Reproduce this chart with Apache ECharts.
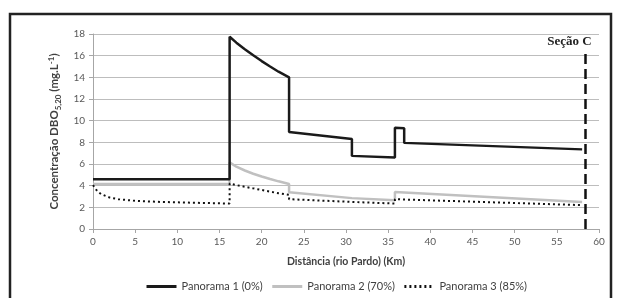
<!DOCTYPE html>
<html>
<head>
<meta charset="utf-8">
<script src="https://cdn.jsdelivr.net/npm/echarts@6/dist/echarts.min.js"></script>
<style>
  html, body { margin: 0; padding: 0; background: #fff; }
  #chart-div { width: 620px; height: 298px; }
</style>
</head>
<body>
<div id="chart-div"></div>
<script>
// distancias (km) e concentracoes DBO
const p1Km  = [0, 16.2, 16.2, 17, 18, 19, 20, 21, 22, 23.25, 23.25, 30.7, 30.7, 35.8, 35.8, 36.9, 36.9, 58]
const p1Val = [4.6, 4.6, 17.75, 17.2, 16.6, 16.03, 15.5, 15.0, 14.52, 14.0, 8.95, 8.3, 6.75, 6.6, 9.35, 9.3, 7.95, 7.35]

const p2Km  = [0, 16.2, 16.2, 17, 18, 19, 20, 21, 22, 23.25, 23.25, 30.7, 30.7, 35.8, 35.8, 36.9, 36.9, 58]
const p2Val = [4.15, 4.15, 6.15, 5.75, 5.4, 5.1, 4.85, 4.62, 4.4, 4.15, 3.4, 2.85, 2.72, 2.65, 3.42, 3.38, 3.2, 2.5]

const p3Km  = [0, 0.5, 1, 2, 3, 5, 8, 12, 16.2, 16.2, 17, 18, 19, 20, 21, 22, 23.25, 23.25, 30.7, 35.8, 35.8, 58]
const p3Val = [4.05, 3.5, 3.2, 2.9, 2.75, 2.6, 2.5, 2.42, 2.35, 4.2, 4.05, 3.9, 3.75, 3.6, 3.45, 3.3, 3.15, 2.75, 2.5, 2.35, 2.75, 2.2]

const seriesNames = ['Panorama 1 (0%)', 'Panorama 2 (70%)', 'Panorama 3 (85%)']
const secaoKm = 58.4
const secaoTop = 16.2

function pairs(xs, ys) {
    return xs.map((x, i) => [x, ys[i]])
}

let myChart = echarts.init(document.getElementById('chart-div'))

const font = 'Lato, "Open Sans", sans-serif'

const option = {
    animation: false,
    textStyle: { fontFamily: font },
    grid: { left: 93, right: 21, top: 34, bottom: 69 },
    graphic: [{
        type: 'rect',
        shape: { x: 10, y: 14, width: 601, height: 300 },
        style: { fill: 'none', stroke: '#222', lineWidth: 2.5 },
        silent: true
    }],
    legend: {
        left: 140,
        top: 276,
        itemWidth: 30,
        itemHeight: 10,
        itemGap: 8,
        itemStyle: { opacity: 0 },
        lineStyle: { width: 3 },
        textStyle: { fontSize: 11, color: '#404040', fontFamily: font },
        data: seriesNames
    },
    xAxis: {
        type: 'value',
        min: 0, max: 60, interval: 5,
        name: 'Distância (rio Pardo) (Km)',
        nameLocation: 'middle',
        nameGap: 27,
        nameTextStyle: { fontWeight: 'bold', fontSize: 10.5, color: '#404040', fontFamily: font },
        axisLine: { lineStyle: { color: '#a6a6a6' } },
        axisTick: { show: true, length: 4, lineStyle: { color: '#a6a6a6' } },
        axisLabel: { fontSize: 10, color: '#595959', margin: 8 },
        splitLine: { show: false }
    },
    yAxis: {
        type: 'value',
        min: 0, max: 18, interval: 2,
        name: '{a|Concentração DBO}{sub|5,20}{a| (mg.L}{sup|-1}{a|)}',
        nameLocation: 'middle',
        nameRotate: 90,
        nameGap: 31,
        nameTextStyle: {
            rich: {
                a: { fontWeight: 'bold', fontSize: 11.5, color: '#404040', fontFamily: font, lineHeight: 15 },
                sub: { fontWeight: 'bold', fontSize: 8, color: '#404040', fontFamily: font, verticalAlign: 'bottom', lineHeight: 11 },
                sup: { fontWeight: 'bold', fontSize: 8, color: '#404040', fontFamily: font, verticalAlign: 'top', lineHeight: 11 }
            }
        },
        axisLine: { show: true, lineStyle: { color: '#a6a6a6' } },
        axisTick: { show: true, length: 4, lineStyle: { color: '#a6a6a6' } },
        axisLabel: { fontSize: 10, color: '#595959', margin: 8 },
        splitLine: { lineStyle: { color: '#bdbdbd', width: 1 } }
    },
    series: [{
        name: seriesNames[0],
        type: 'line',
        symbol: 'none',
        data: pairs(p1Km, p1Val),
        lineStyle: { color: '#1a1a1a', width: 2.5 },
        itemStyle: { color: '#1a1a1a' },
        z: 3,
        markLine: {
            silent: true,
            symbol: 'none',
            lineStyle: { color: '#111', width: 2.5, type: [10, 5] },
            label: {
                show: true,
                position: 'end',
                formatter: 'Seção C',
                fontFamily: '"Liberation Serif", "DejaVu Serif", serif',
                fontWeight: 'bold',
                fontSize: 13,
                color: '#222',
                offset: [-16, 0]
            },
            data: [[{ coord: [secaoKm, 0] }, { coord: [secaoKm, secaoTop] }]]
        }
    }, {
        name: seriesNames[1],
        type: 'line',
        symbol: 'none',
        data: pairs(p2Km, p2Val),
        lineStyle: { color: '#c0c0c0', width: 2.5 },
        itemStyle: { color: '#c0c0c0' },
        z: 2
    }, {
        name: seriesNames[2],
        type: 'line',
        symbol: 'none',
        data: pairs(p3Km, p3Val),
        lineStyle: { color: '#111', width: 2, type: [2, 3] },
        itemStyle: { color: '#111' },
        z: 4
    }]
}

myChart.setOption(option)
</script>
</body>
</html>
